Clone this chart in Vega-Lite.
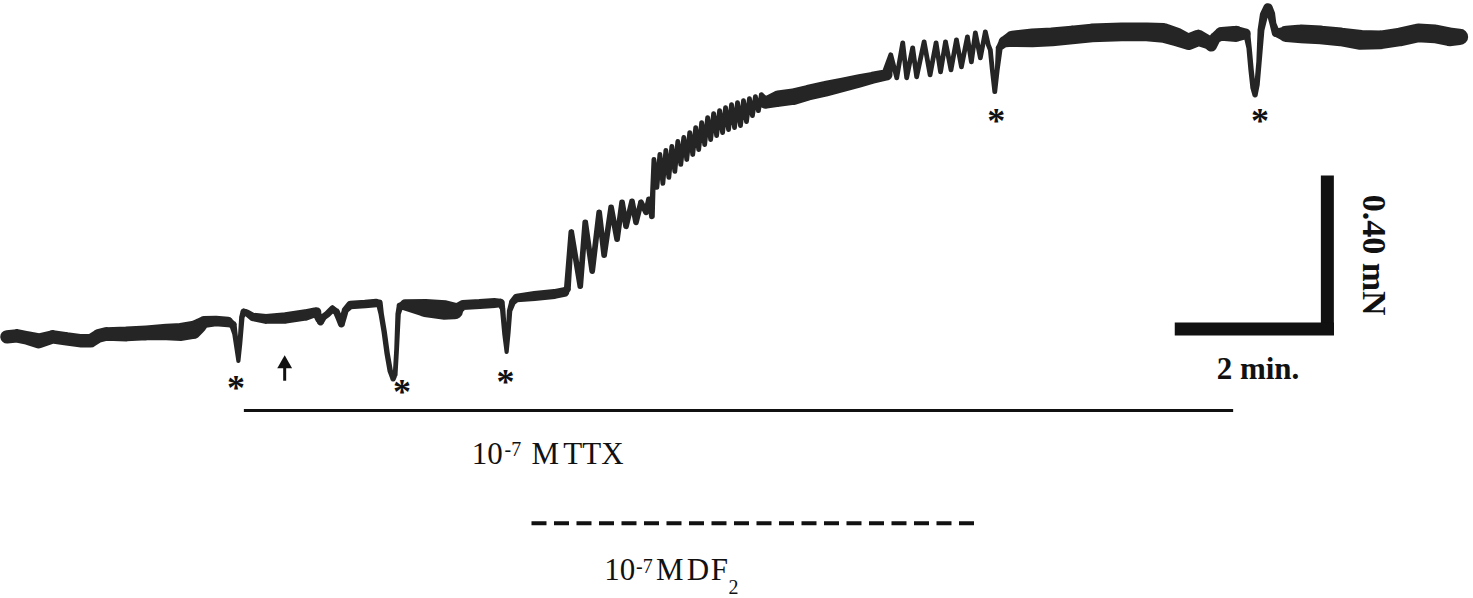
{
 "$schema": "https://vega.github.io/schema/vega-lite/v6.json",
 "width": 1473, "height": 598,
 "autosize": {"type": "fit", "contains": "padding"},
 "padding": 0,
 "background": "white",
 "config": {"view": {"stroke": null}},
 "datasets": {
  "trace": [
   {"t":0,"f":0.65,"osc":0.0225},{"t":7.5,"f":0.6525,"osc":0.0225},{"t":15,"f":0.6475,"osc":0.0225},{"t":24,"f":0.64,"osc":0.025},
   {"t":34.5,"f":0.65,"osc":0.0225},{"t":45,"f":0.645,"osc":0.0225},{"t":56.25,"f":0.64,"osc":0.0225},{"t":63,"f":0.64,"osc":0.0225},
   {"t":69,"f":0.6525,"osc":0.0225},{"t":75,"f":0.6575,"osc":0.0225},{"t":90,"f":0.6575,"osc":0.025},{"t":105,"f":0.66,"osc":0.025},
   {"t":120,"f":0.6625,"osc":0.0275},{"t":131.25,"f":0.6625,"osc":0.03},{"t":140.25,"f":0.6675,"osc":0.03},{"t":144.75,"f":0.6775,"osc":0.025},
   {"t":148.5,"f":0.6875,"osc":0.02},{"t":157.5,"f":0.69,"osc":0.0175},{"t":166.5,"f":0.6875,"osc":0.0175},{"t":170.25,"f":0.68,"osc":0.0125},
   {"t":171.75,"f":0.6575,"osc":0.009},{"t":173.25,"f":0.62,"osc":0.008},{"t":174.375,"f":0.59,"osc":0.007},{"t":175.5,"f":0.6325,"osc":0.008},
   {"t":177,"f":0.7,"osc":0.009},{"t":178.5,"f":0.7125,"osc":0.0115},{"t":180.75,"f":0.71,"osc":0.0115},{"t":185.25,"f":0.7,"osc":0.014},
   {"t":195,"f":0.695,"osc":0.0165},{"t":210,"f":0.6975,"osc":0.019},{"t":225,"f":0.705,"osc":0.019},{"t":233.25,"f":0.7125,"osc":0.016},
   {"t":234.75,"f":0.695,"osc":0.0115},{"t":236.25,"f":0.6875,"osc":0.0115},{"t":238.5,"f":0.7,"osc":0.0115},{"t":241.5,"f":0.7075,"osc":0.0115},
   {"t":245.25,"f":0.72,"osc":0.0115},{"t":248.25,"f":0.7125,"osc":0.0115},{"t":250.5,"f":0.695,"osc":0.0115},{"t":252,"f":0.6825,"osc":0.0115},
   {"t":253.5,"f":0.7,"osc":0.0115},{"t":255,"f":0.7175,"osc":0.0115},{"t":258.75,"f":0.73,"osc":0.014},{"t":270,"f":0.7325,"osc":0.014},
   {"t":278.25,"f":0.735,"osc":0.014},{"t":280.5,"f":0.735,"osc":0.0115},
   {"t":282,"f":0.7075,"osc":0.009},{"t":284.25,"f":0.6625,"osc":0.009},{"t":286.5,"f":0.6075,"osc":0.009},{"t":288.75,"f":0.565,"osc":0.009},
   {"t":291,"f":0.545,"osc":0.009},{"t":292.5,"f":0.555,"osc":0.008},{"t":293.625,"f":0.62,"osc":0.008},{"t":294.75,"f":0.7075,"osc":0.009},
   {"t":296.25,"f":0.7275,"osc":0.0115},{"t":300,"f":0.73,"osc":0.019},{"t":315,"f":0.7225,"osc":0.03},{"t":330,"f":0.7175,"osc":0.0325},
   {"t":337.5,"f":0.715,"osc":0.0275},{"t":340.5,"f":0.7225,"osc":0.019},{"t":343.5,"f":0.73,"osc":0.0165},{"t":356.25,"f":0.7325,"osc":0.0165},
   {"t":367.5,"f":0.735,"osc":0.0165},{"t":372,"f":0.735,"osc":0.014},
   {"t":373.5,"f":0.72,"osc":0.009},{"t":375,"f":0.6575,"osc":0.008},{"t":376.5,"f":0.6125,"osc":0.007},{"t":377.625,"f":0.6575,"osc":0.008},
   {"t":378.75,"f":0.715,"osc":0.009},{"t":381,"f":0.7375,"osc":0.0115},{"t":384,"f":0.7475,"osc":0.014},{"t":397.5,"f":0.7525,"osc":0.0165},
   {"t":412.5,"f":0.7575,"osc":0.0165},{"t":420,"f":0.7625,"osc":0.0165},{"t":422.25,"f":0.77,"osc":0.0115},
   {"t":425.25,"f":0.9125,"osc":0.0095},{"t":432,"f":0.7775,"osc":0.0095},{"t":435.75,"f":0.9375,"osc":0.0095},{"t":441,"f":0.815,"osc":0.0095},
   {"t":446.25,"f":0.9625,"osc":0.0095},{"t":450,"f":0.855,"osc":0.0095},{"t":455.25,"f":0.975,"osc":0.0095},{"t":459.75,"f":0.895,"osc":0.0095},
   {"t":463.5,"f":0.9875,"osc":0.0095},{"t":466.5,"f":0.9275,"osc":0.0095},{"t":471,"f":0.99,"osc":0.0095},{"t":474,"f":0.9375,"osc":0.0095},
   {"t":477.75,"f":0.9875,"osc":0.0095},{"t":481.5,"f":0.9625,"osc":0.0095},{"t":483.75,"f":0.995,"osc":0.0095},{"t":486,"f":0.9525,"osc":0.0095},
   {"t":487.5,"f":1.095,"osc":0.008},{"t":489.75,"f":1.025,"osc":0.008},{"t":492,"f":1.1075,"osc":0.008},{"t":494.25,"f":1.035,"osc":0.008},
   {"t":496.5,"f":1.1175,"osc":0.008},{"t":498.75,"f":1.05,"osc":0.008},{"t":501,"f":1.1275,"osc":0.008},{"t":503.25,"f":1.065,"osc":0.008},
   {"t":505.5,"f":1.14,"osc":0.008},{"t":507.75,"f":1.0825,"osc":0.008},{"t":510,"f":1.15,"osc":0.008},{"t":512.25,"f":1.095,"osc":0.008},
   {"t":514.5,"f":1.1625,"osc":0.008},{"t":516.75,"f":1.1075,"osc":0.008},{"t":519,"f":1.175,"osc":0.008},{"t":521.25,"f":1.12,"osc":0.008},
   {"t":523.5,"f":1.1875,"osc":0.008},{"t":525.75,"f":1.1325,"osc":0.008},{"t":528,"f":1.2,"osc":0.008},{"t":530.25,"f":1.145,"osc":0.008},
   {"t":532.5,"f":1.21,"osc":0.008},{"t":534.75,"f":1.155,"osc":0.008},{"t":537,"f":1.2175,"osc":0.008},{"t":539.25,"f":1.1625,"osc":0.008},
   {"t":541.5,"f":1.225,"osc":0.008},{"t":543.75,"f":1.17,"osc":0.008},{"t":546,"f":1.2325,"osc":0.008},{"t":548.25,"f":1.175,"osc":0.008},
   {"t":550.5,"f":1.2375,"osc":0.008},{"t":552.75,"f":1.18,"osc":0.008},{"t":555,"f":1.2425,"osc":0.008},{"t":557.25,"f":1.19,"osc":0.008},
   {"t":559.5,"f":1.2475,"osc":0.008},{"t":561.75,"f":1.205,"osc":0.008},{"t":564,"f":1.2525,"osc":0.008},{"t":566.25,"f":1.2175,"osc":0.008},
   {"t":568.5,"f":1.2575,"osc":0.008},{"t":571.5,"f":1.2375,"osc":0.02},
   {"t":581.25,"f":1.2475,"osc":0.0275},{"t":592.5,"f":1.2525,"osc":0.0275},
   {"t":603.75,"f":1.2625,"osc":0.026},{"t":617.25,"f":1.2725,"osc":0.026},{"t":630,"f":1.2825,"osc":0.024},{"t":642.75,"f":1.2925,"osc":0.022},
   {"t":652.5,"f":1.3,"osc":0.02},{"t":663,"f":1.3075,"osc":0.019},
   {"t":666,"f":1.3575,"osc":0.008},{"t":670.5,"f":1.3,"osc":0.008},{"t":675,"f":1.3875,"osc":0.008},{"t":678,"f":1.3,"osc":0.008},
   {"t":682.5,"f":1.375,"osc":0.008},{"t":685.5,"f":1.3025,"osc":0.008},{"t":691.125,"f":1.39,"osc":0.008},{"t":695.625,"f":1.3075,"osc":0.008},
   {"t":700.125,"f":1.3875,"osc":0.008},{"t":703.5,"f":1.315,"osc":0.008},{"t":707.25,"f":1.39,"osc":0.008},{"t":711.375,"f":1.32,"osc":0.008},
   {"t":715.5,"f":1.395,"osc":0.008},{"t":719.25,"f":1.3275,"osc":0.008},{"t":723.75,"f":1.4025,"osc":0.008},{"t":726.75,"f":1.34,"osc":0.008},
   {"t":729.75,"f":1.4125,"osc":0.008},{"t":733.5,"f":1.35,"osc":0.008},{"t":737.25,"f":1.415,"osc":0.008},{"t":739.5,"f":1.3825,"osc":0.008},
   {"t":741,"f":1.37,"osc":0.008},{"t":742.5,"f":1.32,"osc":0.008},{"t":744.375,"f":1.265,"osc":0.008},{"t":746.25,"f":1.32,"osc":0.008},
   {"t":747.75,"f":1.375,"osc":0.0115},{"t":751.5,"f":1.39,"osc":0.019},{"t":757.5,"f":1.3975,"osc":0.027},{"t":772.5,"f":1.4,"osc":0.031},
   {"t":787.5,"f":1.4025,"osc":0.031},{"t":802.5,"f":1.4075,"osc":0.031},{"t":817.5,"f":1.4125,"osc":0.031},{"t":840,"f":1.415,"osc":0.031},
   {"t":858.75,"f":1.415,"osc":0.031},{"t":871.5,"f":1.4125,"osc":0.033},{"t":881.25,"f":1.4025,"osc":0.031},{"t":890.25,"f":1.39,"osc":0.027},
   {"t":897.75,"f":1.4,"osc":0.027},{"t":904.5,"f":1.39,"osc":0.023},{"t":907.5,"f":1.38,"osc":0.019},{"t":910.5,"f":1.4,"osc":0.019},
   {"t":915,"f":1.41,"osc":0.023},{"t":926.25,"f":1.41,"osc":0.027},{"t":933,"f":1.41,"osc":0.019},{"t":934.5,"f":1.405,"osc":0.0115},
   {"t":936,"f":1.375,"osc":0.009},{"t":937.5,"f":1.32,"osc":0.009},{"t":939,"f":1.275,"osc":0.009},{"t":940.5,"f":1.2575,"osc":0.009},
   {"t":942,"f":1.2825,"osc":0.009},{"t":943.5,"f":1.34,"osc":0.009},{"t":945,"f":1.42,"osc":0.0115},{"t":947.25,"f":1.4575,"osc":0.014},
   {"t":950.25,"f":1.475,"osc":0.016},{"t":952.5,"f":1.46,"osc":0.014},{"t":954,"f":1.435,"osc":0.0115},{"t":956.25,"f":1.4125,"osc":0.014},
   {"t":963.75,"f":1.41,"osc":0.027},{"t":975,"f":1.41,"osc":0.031},{"t":990,"f":1.4075,"osc":0.031},{"t":1005,"f":1.4025,"osc":0.031},
   {"t":1020,"f":1.395,"osc":0.033},{"t":1035,"f":1.395,"osc":0.031},{"t":1050,"f":1.4025,"osc":0.031},{"t":1063.5,"f":1.4125,"osc":0.031},
   {"t":1076.25,"f":1.41,"osc":0.031},{"t":1087.5,"f":1.4025,"osc":0.031},{"t":1095,"f":1.4025,"osc":0.027}
  ],
  "stars": [
   {"t":172.5,"f":0.535},{"t":297.75,"f":0.525},{"t":375.75,"f":0.55},{"t":745.5,"f":1.205},{"t":944.25,"f":1.205}
  ],
  "arrow": [{"t":209.25,"f":0.54,"f2":0.58,"fh":0.5875}],
  "ttx": [{"t":178.5,"t2":924,"f":0.465}],
  "df2": [{"t":395.25,"t2":732.75,"f":0.1825}],
  "bars": [
   {"t":995,"t2":995,"f":0.655,"f2":1.055},
   {"t":880,"t2":1000,"f":0.67,"f2":0.67}
  ],
  "labels": [
   {"t":350.25,"f":0.33,"text":"10","role":"base"},
   {"t":375,"f":0.35,"text":"-7","role":"script"},
   {"t":395.25,"f":0.33,"text":"M","role":"base"},
   {"t":419.25,"f":0.33,"text":"TTX","role":"base"},
   {"t":450,"f":0.04,"text":"10","role":"base"},
   {"t":474,"f":0.0575,"text":"-7","role":"script"},
   {"t":489,"f":0.04,"text":"M","role":"base"},
   {"t":512.25,"f":0.04,"text":"D","role":"base"},
   {"t":530.25,"f":0.04,"text":"F","role":"base"},
   {"t":543.75,"f":0.005,"text":"2","role":"script"}
  ],
  "scaletext": [
   {"t":1029.75,"f":0.855,"text":"0.40 mN","dir":"v"},
   {"t":942.75,"f":0.545,"text":"2 min.","dir":"h"}
  ]
 },
 "encoding": {
  "x": {"field":"t","type":"quantitative","scale":{"domain":[0,1104.75],"nice":false,"zero":false},"axis":null},
  "y": {"field":"f","type":"quantitative","scale":{"domain":[0,1.495],"nice":false,"zero":false},"axis":null}
 },
 "layer": [
  {
   "data": {"name":"trace"},
   "mark": {"type":"trail","color":"#252525"},
   "encoding": {
    "size": {"field":"osc","type":"quantitative","scale":{"domain":[0,0.05],"range":[0,30]},"legend":null},
    "order": {"field":"t","type":"quantitative"}
   }
  },
  {
   "data": {"name":"stars"},
   "mark": {"type":"text","text":"*","font":"Liberation Serif","fontWeight":"bold","fontSize":36,"align":"center","baseline":"alphabetic","dy":17,"color":"#111"}
  },
  {
   "data": {"name":"arrow"},
   "mark": {"type":"rule","strokeWidth":3,"color":"#111"},
   "encoding": {"y2": {"field":"f2"}}
  },
  {
   "data": {"name":"arrow"},
   "mark": {"type":"point","shape":"triangle-up","filled":true,"size":220,"color":"#111","opacity":1},
   "encoding": {"y": {"field":"fh","type":"quantitative"}}
  },
  {
   "data": {"name":"ttx"},
   "mark": {"type":"rule","strokeWidth":3,"color":"#111"},
   "encoding": {"x2": {"field":"t2"}}
  },
  {
   "data": {"name":"df2"},
   "mark": {"type":"rule","strokeWidth":4,"strokeDash":[15,7.5],"color":"#111"},
   "encoding": {"x2": {"field":"t2"}}
  },
  {
   "data": {"name":"bars"},
   "mark": {"type":"rule","strokeWidth":13,"strokeCap":"butt","color":"#111"},
   "encoding": {"x2": {"field":"t2"}, "y2": {"field":"f2"}}
  },
  {
   "data": {"name":"labels"},
   "transform": [{"filter":"datum.role === 'base'"}],
   "mark": {"type":"text","font":"Liberation Serif","fontSize":31,"align":"left","baseline":"alphabetic","color":"#111"},
   "encoding": {"text": {"field":"text"}}
  },
  {
   "data": {"name":"labels"},
   "transform": [{"filter":"datum.role === 'script'"}],
   "mark": {"type":"text","font":"Liberation Serif","fontSize":20,"align":"left","baseline":"alphabetic","color":"#111"},
   "encoding": {"text": {"field":"text"}}
  },
  {
   "data": {"name":"scaletext"},
   "transform": [{"filter":"datum.dir === 'v'"}],
   "mark": {"type":"text","font":"Liberation Serif","fontWeight":"bold","fontSize":34,"align":"center","baseline":"middle","angle":90,"color":"#111"},
   "encoding": {"text": {"field":"text"}}
  },
  {
   "data": {"name":"scaletext"},
   "transform": [{"filter":"datum.dir === 'h'"}],
   "mark": {"type":"text","font":"Liberation Serif","fontWeight":"bold","fontSize":31,"align":"center","baseline":"alphabetic","color":"#111"},
   "encoding": {"text": {"field":"text"}}
  }
 ]
}
